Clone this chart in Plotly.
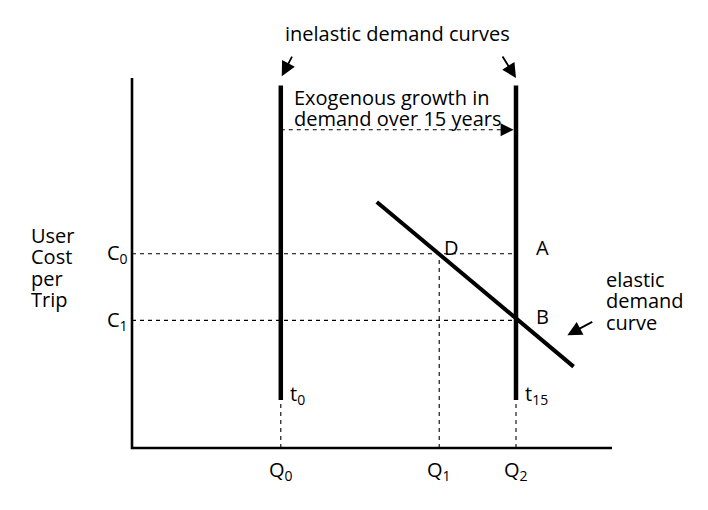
import plotly.graph_objects as go

# ---- data (quantity units along x, user cost units along y) ----
q_labels = ["Q<sub>0</sub>", "Q<sub>1</sub>", "Q<sub>2</sub>"]
q_values = [3.1, 6.4, 8.0]          # Q0, Q1, Q2
c_labels = ["C<sub>0</sub>", "C<sub>1</sub>"]
c_values = [5.25, 3.45]             # C0, C1
axis_max_q = [10.0]
axis_max_c = [10.0]
inelastic_c = [1.3, 9.8]            # vertical extent of inelastic demand curves
elastic_q = [5.1, 9.2]              # elastic demand curve end points
elastic_c = [6.65, 2.2]
growth_c = [8.6]                    # level of the exogenous growth arrow
time_labels = ["t<sub>0</sub>", "t<sub>15</sub>"]
y_title = ["User", "Cost", "per", "Trip"]
growth_text = ["Exogenous growth in", "demand over 15 years"]
elastic_text = ["elastic", "demand", "curve"]

Q0, Q1, Q2 = q_values
C0, C1 = c_values

FONT = dict(family="Open Sans", size=20, color="black")
DASH = dict(color="black", width=1.1, dash="4px,4px")

fig = go.Figure()

def line(xs, ys, **kw):
    fig.add_trace(go.Scatter(x=xs, y=ys, mode="lines", line=kw,
                             showlegend=False, hoverinfo="skip"))

# dashed guide lines
line([0, Q2], [C0, C0], **DASH)
line([0, Q2], [C1, C1], **DASH)
line([Q1, Q1], [0, C0], **DASH)
line([Q0, Q0], [0, inelastic_c[0]], **DASH)
line([Q2, Q2], [0, inelastic_c[0]], **DASH)
line([Q0, Q2 - 0.2], [growth_c[0], growth_c[0]], **DASH)

# axes
line([0, 0, axis_max_q[0]], [axis_max_c[0], 0, 0], color="black", width=2.6)

# inelastic demand curves
line([Q0, Q0], inelastic_c, color="black", width=4.5)
line([Q2, Q2], inelastic_c, color="black", width=4.5)

# elastic demand curve
line(elastic_q, elastic_c, color="black", width=4)

ann = []

def text(x, y, s, xanchor="center", yanchor="middle", size=20, align="center"):
    ann.append(dict(x=x, y=y, xref="x", yref="y", text=s, showarrow=False,
                    xanchor=xanchor, yanchor=yanchor, align=align,
                    font=dict(FONT, size=size)))

def multiline(x, y, words, xanchor="left"):
    # glyphs at 20px, line pitch set by a 16.5px base size
    s = "<br>".join("<span style='font-size:20px'>%s</span>" % w for w in words)
    text(x, y, s, xanchor=xanchor, size=16.5, align="left")

def arrow(x, y, ax, ay, width=1.8, size=1.6):
    ann.append(dict(x=x, y=y, ax=ax, ay=ay, xref="x", yref="y",
                    axref="x", ayref="y", text="", showarrow=True,
                    arrowhead=2, arrowsize=size, arrowwidth=width,
                    arrowcolor="black", standoff=0, startstandoff=0))

# tick labels
for q, lab in zip(q_values, q_labels):
    text(q, -0.6, lab)
for c, lab in zip(c_values, c_labels):
    text(-0.04, c, lab, xanchor="right")

# y axis title
multiline(-2.15, 4.88, y_title)

# inelastic label and arrows
text(5.54, 11.2, "inelastic demand curves")
arrow(Q0 + 0.02, 10.05, 3.35, 10.62)
arrow(Q2, 10.0, 7.7, 10.62)

# exogenous growth
multiline(3.33, 9.2, growth_text)
arrow(Q2 - 0.05, growth_c[0], Q2 - 0.22, growth_c[0], width=1.3, size=2.0)

# points
text(6.45, C0 + 0.17, "D", xanchor="left")
text(8.55, C0 + 0.17, "A")
text(8.55, C1 + 0.1, "B")

# time labels
text(Q0 + 0.15, 1.45, time_labels[0], xanchor="left")
text(Q2 + 0.15, 1.45, time_labels[1], xanchor="left")

# elastic label and arrow
multiline(9.83, 3.97, elastic_text)
arrow(9.07, 3.05, 9.62, 3.43)

# page body has an 8px margin: offset ranges so marks land at reference pixels
fig.update_layout(
    width=708, height=510,
    margin=dict(l=0, r=0, t=0, b=0),
    paper_bgcolor="white", plot_bgcolor="white",
    xaxis=dict(range=[(8 - 132) / 48, (716 - 132) / 48], visible=False,
               fixedrange=True),
    yaxis=dict(range=[(448 - 518) / 37, (448 - 8) / 37], visible=False,
               fixedrange=True),
    annotations=ann,
    font=FONT,
)

fig.write_html("out.html")
